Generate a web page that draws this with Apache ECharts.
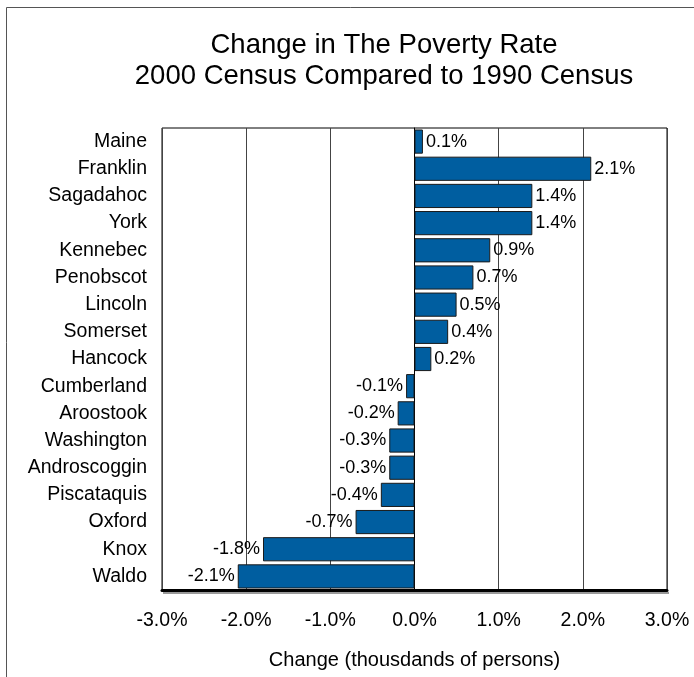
<!DOCTYPE html>
<html>
<head>
<meta charset="utf-8">
<script src="https://cdn.jsdelivr.net/npm/echarts@6/dist/echarts.min.js"></script>
<style>
  html, body { margin: 0; padding: 0; background: #fff; }
  #chart { width: 694px; height: 677px; }
</style>
</head>
<body>
<div id="chart"></div>
<script>
// Maine counties, change in poverty rate (percentage points), 1990 -> 2000
const counties = ['Maine', 'Franklin', 'Sagadahoc', 'York', 'Kennebec', 'Penobscot', 'Lincoln',
  'Somerset', 'Hancock', 'Cumberland', 'Aroostook', 'Washington', 'Androscoggin',
  'Piscataquis', 'Oxford', 'Knox', 'Waldo'];
const changes = [0.1, 2.1, 1.4, 1.4, 0.9, 0.7, 0.5, 0.4, 0.2, -0.1, -0.2, -0.3, -0.3, -0.4, -0.7, -1.8, -2.1];
const axisTicks = [-3, -2, -1, 0, 1, 2, 3];

const FONT = 'Liberation Sans, Arial, sans-serif';
const chart = echarts.init(document.getElementById('chart'));

chart.setOption({
  backgroundColor: '#fff',
  animation: false,
  title: {
    text: 'Change in The Poverty Rate\n2000 Census Compared to 1990 Census',
    left: 379,
    textAlign: 'center',
    top: 25,
    textStyle: { fontFamily: FONT, fontSize: 27.5, fontWeight: 'normal', color: '#000', lineHeight: 31 }
  },
  graphic: [{
    type: 'rect',
    shape: { x: 6.5, y: 7.5, width: 700, height: 700 },
    style: { fill: 'none', stroke: '#555', lineWidth: 1 },
    silent: true, z: -1
  }, {
    // drop shadow beneath the base of the plot
    type: 'rect',
    shape: { x: 163, y: 592, width: 506, height: 2 },
    style: { fill: '#999' },
    silent: true
  }],
  grid: {
    left: 162, right: 27, top: 128, bottom: 87,
    show: true, borderColor: '#000', borderWidth: 1, backgroundColor: '#fff'
  },
  xAxis: {
    type: 'value',
    min: axisTicks[0], max: axisTicks[axisTicks.length - 1], interval: 1,
    name: 'Change (thousdands of persons)',
    nameLocation: 'middle',
    nameGap: 60,
    nameTextStyle: { fontFamily: FONT, fontSize: 20, color: '#000' },
    axisLine: { show: true, lineStyle: { color: '#000', width: 3 } },
    axisTick: { show: false },
    axisLabel: {
      fontFamily: FONT, fontSize: 19.5, color: '#000', margin: 21,
      formatter: v => v.toFixed(1) + '%'
    },
    splitLine: { show: true, lineStyle: { color: '#444', width: 1 } }
  },
  yAxis: {
    type: 'category',
    data: counties,
    inverse: true,
    position: 'left',
    axisLine: { show: true, onZero: true, lineStyle: { color: '#000', width: 1 } },
    axisTick: { show: false },
    axisLabel: { fontFamily: FONT, fontSize: 19.5, color: '#000', margin: 15 }
  },
  series: [{
    type: 'bar',
    barCategoryGap: '11%',
    itemStyle: { color: '#005EA0', borderColor: '#1a1a1a', borderWidth: 1 },
    label: {
      show: true,
      fontFamily: FONT, fontSize: 18, color: '#000',
      distance: 3,
      formatter: p => p.value.toFixed(1) + '%'
    },
    // negative bars carry their label on the left end
    data: changes.map(v => ({
      value: v,
      label: { position: v < 0 ? 'left' : 'right' }
    }))
  }]
});
</script>
</body>
</html>
